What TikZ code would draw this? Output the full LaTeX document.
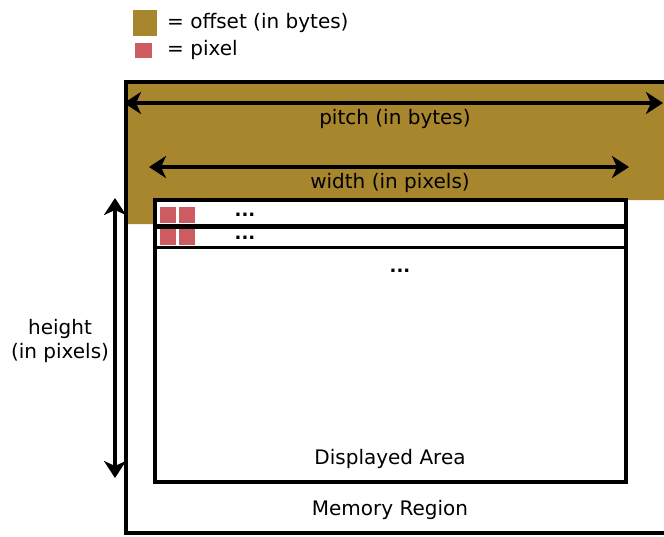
\documentclass[tikz,border=0pt]{standalone}
\usepackage{fontspec}
\setmainfont{DejaVu Sans}
\usetikzlibrary{arrows.meta}
\definecolor{offsetcol}{RGB}{168,134,46}
\definecolor{pixelcol}{RGB}{205,92,98}

\begin{document}
\begin{tikzpicture}[x=1pt,y=-1pt,
    lbl/.style={font=\fontsize{20}{24}\selectfont,inner sep=0pt},
    dots/.style={font=\fontsize{18}{20}\selectfont\bfseries,inner sep=0pt,anchor=base},
    dimline/.style={line width=3.5pt,{Stealth[length=17pt,width=22pt,inset=5pt]}-{Stealth[length=17pt,width=22pt,inset=5pt]}},
    pix/.style={fill=pixelcol,minimum size=16pt,inner sep=0pt}]
    \clip (0,0) rectangle (664,536);
    \useasboundingbox (0,0) rectangle (664,536);

    % 定义点变量
    \coordinate (A) at (127,84);
    \coordinate (B) at (680,84);
    \coordinate (C) at (680,200);
    \coordinate (D) at (155,200);
    \coordinate (E) at (155,224);
    \coordinate (F) at (127,224);
    \coordinate (G) at (126,82);
    \coordinate (H) at (680,533);
    \coordinate (I) at (626,482);
    \coordinate (J) at (626,225);
    \coordinate (K) at (155,227);
    \coordinate (L) at (626,247);
    % 箭头端点
    \coordinate (P1) at (124,103);
    \coordinate (P2) at (663,103);
    \coordinate (W1) at (149,167);
    \coordinate (W2) at (629,167);
    \coordinate (H1) at (115,198);
    \coordinate (H2) at (115,478);

    % 图例
    \fill[offsetcol] (133,10) rectangle (157,36);
    \node[lbl,anchor=west] (legoff) at (167,23) {= offset (in bytes)};
    \fill[pixelcol] (135,43) rectangle (152,58);
    \node[lbl,anchor=west] (legpix) at (167,50) {= pixel};

    % offset 区域
    \fill[offsetcol] (A) -- (B) -- (C) -- (D) -- (E) -- (F) -- cycle;

    % 内存区域和显示区域
    \draw[line width=3.5pt] (G) rectangle (H);
    \draw[line width=3.5pt,fill=white] (D) rectangle (I);
    \draw[line width=3pt] (D) rectangle (J);
    \draw[line width=3pt] (K) rectangle (L);

    % 像素
    \node[pix] (p11) at (167.5,214.5) {};
    \node[pix] (p12) at (187,214.5) {};
    \node[pix] (p21) at (167.5,236.5) {};
    \node[pix] (p22) at (187,236.5) {};
    \node[dots] (d1) at (245,216) {...};
    \node[dots] (d2) at (245,239) {...};
    \node[dots] (d3) at (400,272) {...};

    % 尺寸箭头
    \draw[dimline] (P1) -- (P2);
    \draw[dimline] (W1) -- (W2);
    \draw[dimline] (H1) -- (H2);

    \node[lbl] (pitch) at (395,119) {pitch (in bytes)};
    \node[lbl] (width) at (390,183) {width (in pixels)};
    \node[lbl,align=center] (height) at (60,341) {height\\(in pixels)};
    \node[lbl] (disp) at (390,459) {Displayed Area};
    \node[lbl] (mem) at (390,510) {Memory Region};

\end{tikzpicture}
\end{document}
